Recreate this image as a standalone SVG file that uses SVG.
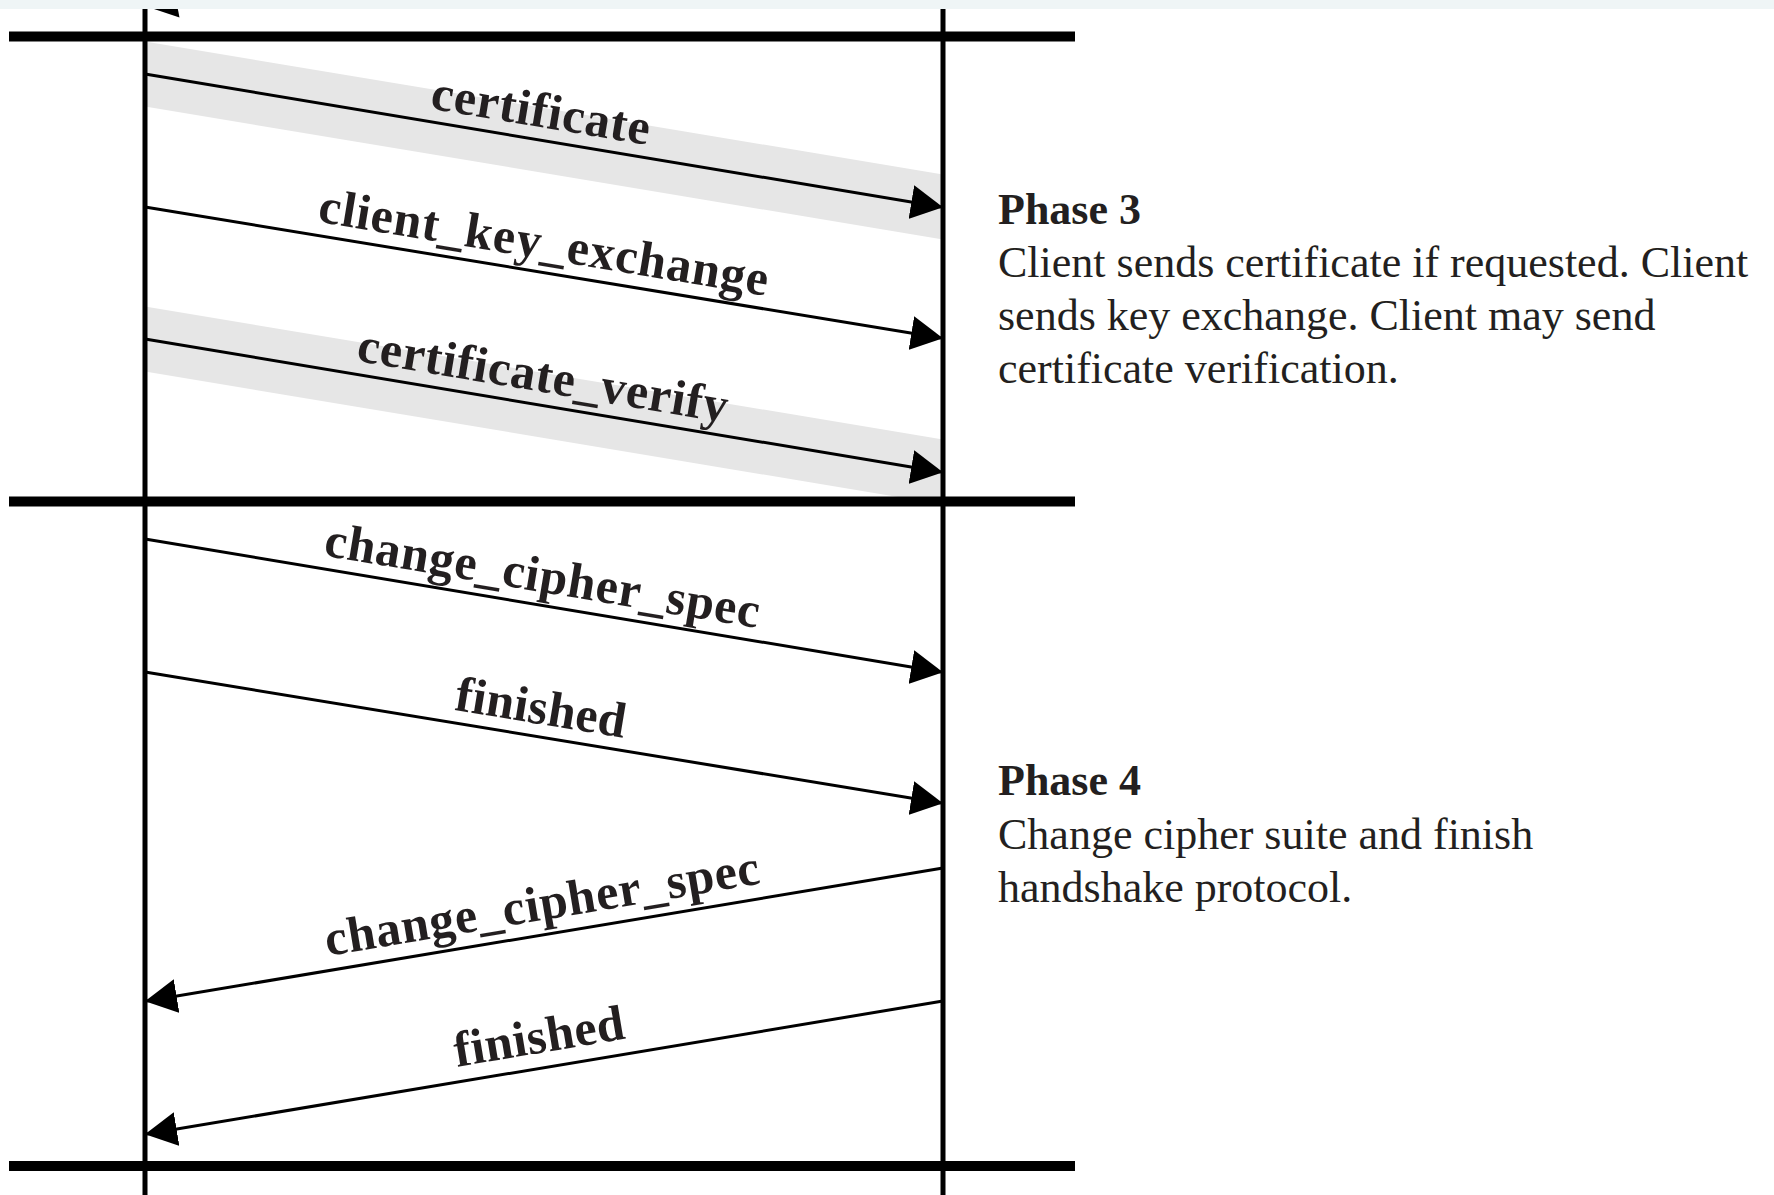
<svg xmlns="http://www.w3.org/2000/svg" width="1774" height="1195" viewBox="0 0 1774 1195">
<style>
.lifeline{stroke:#000;stroke-width:5;fill:none}
.bar{fill:#000}
.band{fill:#e6e6e6}
.msg{stroke:#000;stroke-width:3;fill:none;marker-end:url(#ah)}
.lbl{font-family:"Liberation Serif","Times New Roman",serif;font-weight:bold;font-size:50px;fill:#231f20;text-anchor:middle}
.ph{font-family:"Liberation Serif","Times New Roman",serif;font-weight:bold;font-size:44px;fill:#231f20}
.desc{font-family:"Liberation Serif","Times New Roman",serif;font-size:44px;fill:#231f20}
</style>
<defs>
<marker id="ah" markerUnits="userSpaceOnUse" viewBox="0 0 32 34" refX="30" refY="17" markerWidth="32" markerHeight="34" orient="auto">
<path d="M0,0 L32,17 L0,34 z" fill="#000"/>
</marker>
</defs>
<rect x="0" y="0" width="1774" height="1195" fill="#fff"/>

<g id="bands">
<polygon class="band" points="145,41.5 943,174.5 943,239.5 145,106.5"/>
<polygon class="band" points="145,306.5 943,439.5 943,504.5 145,371.5"/>
</g>

<g id="lifelines">
<line id="client" class="lifeline" x1="145" y1="0" x2="145" y2="1195"/>
<line id="server" class="lifeline" x1="943" y1="0" x2="943" y2="1195"/>
</g>

<g id="phase-bars">
<rect class="bar" x="9" y="31.5" width="1066" height="10"/>
<rect class="bar" x="9" y="496.5" width="1066" height="10"/>
<rect class="bar" x="9" y="1161" width="1066" height="10"/>
</g>

<g id="connectors">
<polygon points="145,6 174,-10.5 179.5,17.5" fill="#000"/>
<line class="msg" x1="145" y1="74" x2="941" y2="207"/>
<line class="msg" x1="145" y1="207" x2="941" y2="338"/>
<line class="msg" x1="145" y1="339" x2="941" y2="472"/>
<line class="msg" x1="145" y1="539" x2="941" y2="672"/>
<line class="msg" x1="145" y1="672" x2="941" y2="803"/>
<line class="msg" x1="943" y1="868" x2="147" y2="1001"/>
<line class="msg" x1="943" y1="1001" x2="147" y2="1134"/>
</g>

<g id="labels">
<text class="lbl" transform="translate(536,140.5) rotate(9.5)" x="0" y="-14" textLength="221" lengthAdjust="spacing">certificate</text>
<text class="lbl" transform="translate(539,272.5) rotate(9.4)" x="0" y="-14" textLength="455" lengthAdjust="spacing">client_key_exchange</text>
<text class="lbl" transform="translate(538,405.5) rotate(9.5)" x="0" y="-14" textLength="375" lengthAdjust="spacing">certificate_verify</text>
<text class="lbl" transform="translate(537.5,605.5) rotate(9.5)" x="0" y="-14" textLength="440" lengthAdjust="spacing">change_cipher_spec</text>
<text class="lbl" transform="translate(536,737.5) rotate(9.4)" x="0" y="-14" textLength="172" lengthAdjust="spacing">finished</text>
<text class="lbl" transform="translate(547,934.5) rotate(-9.5)" x="0" y="-15" textLength="440" lengthAdjust="spacing">change_cipher_spec</text>
<text class="lbl" transform="translate(544,1067.5) rotate(-9.5)" x="0" y="-15" textLength="172" lengthAdjust="spacing">finished</text>
</g>

<g id="phase3">
<text class="ph" x="998" y="224">Phase 3</text>
<text class="desc" x="998" y="277">Client sends certificate if requested. Client</text>
<text class="desc" x="998" y="330">sends key exchange. Client may send</text>
<text class="desc" x="998" y="383">certificate verification.</text>
</g>

<g id="phase4">
<text class="ph" x="998" y="795">Phase 4</text>
<text class="desc" x="998" y="849">Change cipher suite and finish</text>
<text class="desc" x="998" y="902">handshake protocol.</text>
</g>

<rect x="0" y="0" width="1774" height="9" fill="#eff5f6"/>
</svg>
